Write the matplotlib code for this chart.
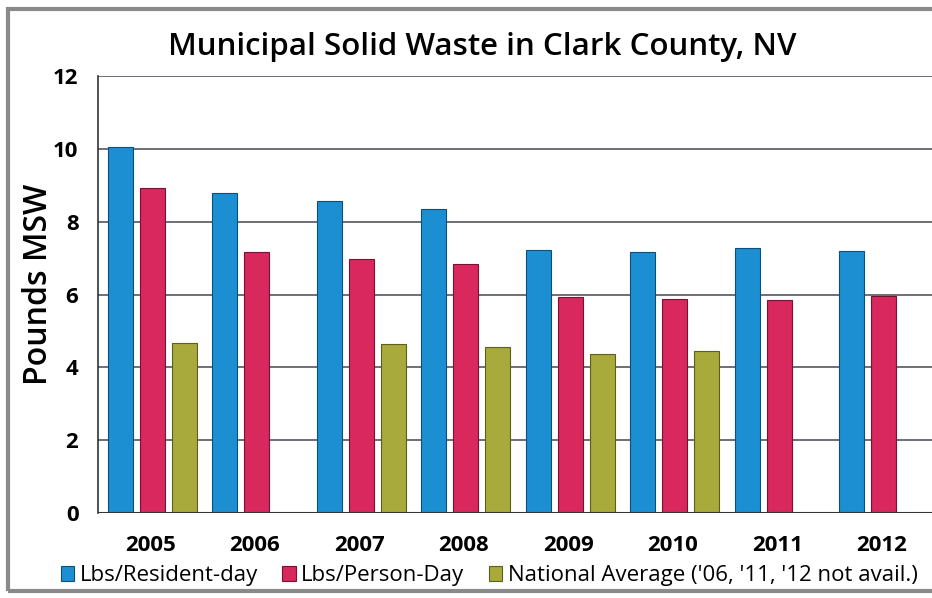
import matplotlib
matplotlib.use("Agg")
import matplotlib.pyplot as plt
import numpy as np
from matplotlib.patches import Rectangle

years = ["2005", "2006", "2007", "2008", "2009", "2010", "2011", "2012"]
resident_day = [10.05, 8.79, 8.57, 8.35, 7.23, 7.17, 7.28, 7.20]
person_day = [8.93, 7.17, 6.98, 6.84, 5.93, 5.88, 5.85, 5.96]
national_avg = [4.67, np.nan, 4.64, 4.56, 4.37, 4.45, np.nan, np.nan]

series_names = ["Lbs/Resident-day", "Lbs/Person-Day",
                "National Average ('06, '11, '12 not avail.)"]
colors = ["#1c8fd3", "#d8285e", "#a8aa3c"]
edge_colors = ["#0b4f7a", "#7a1233", "#5d5e1c"]

plt.rcParams['font.family'] = ['Open Sans', 'DejaVu Sans']

fig = plt.figure(figsize=(9.32, 5.98), dpi=100)
ax = fig.add_axes([0.105, 0.142, 0.897, 0.731])

x = np.arange(len(years))
step = 0.306
width = 0.24
handles = []
for i, (vals, c, ec, name) in enumerate(zip([resident_day, person_day, national_avg],
                                          colors, edge_colors, series_names)):
    b = ax.bar(x + (i - 1) * step + 0.02, vals, width=width, color=c,
               edgecolor=ec, linewidth=0.8, label=name, zorder=3)
    handles.append(b)

ax.set_xlim(-0.5, len(years) - 0.5)
ax.set_ylim(0, 12)
ax.set_yticks(np.arange(0, 13, 2))
ax.set_xticks(x)
ax.set_xticklabels(years, fontsize=16, fontweight='bold')
for t in ax.get_yticklabels():
    t.set_fontsize(16)
    t.set_fontweight('bold')
ax.tick_params(axis='both', length=0)
ax.tick_params(axis='y', pad=14)
ax.tick_params(axis='x', pad=16)
ax.yaxis.grid(True, color="#555560", linewidth=1.2, zorder=0)
for s in ["top", "right", "bottom"]:
    ax.spines[s].set_visible(False)
ax.spines["left"].set_color("#333333")
ax.spines["left"].set_linewidth(1.2)
ax.axhline(0, color="#333333", linewidth=1.5, zorder=4)

fig.text(39 / 932, 1 - 284 / 598, "Pounds MSW", rotation=90, ha='center',
         va='center', fontsize=23, fontweight='semibold')
fig.text(0.517, 0.922, "Municipal Solid Waste in Clark County, NV",
         ha='center', va='center', fontsize=22.5, fontweight='semibold')

fig.legend(handles=handles, labels=series_names, loc='center',
           bbox_to_anchor=(0.525, 0.037), ncol=3, frameon=False,
           fontsize=16, handlelength=0.6, handleheight=0.6,
           handletextpad=0.25, columnspacing=1.1, borderpad=0.1)

fig.patches.append(Rectangle((0.009, 0.012), 1.2, 0.973, transform=fig.transFigure,
                             fill=False, edgecolor="#8a8a8a", linewidth=3))

fig.savefig("out.png", dpi=100, facecolor="white")
